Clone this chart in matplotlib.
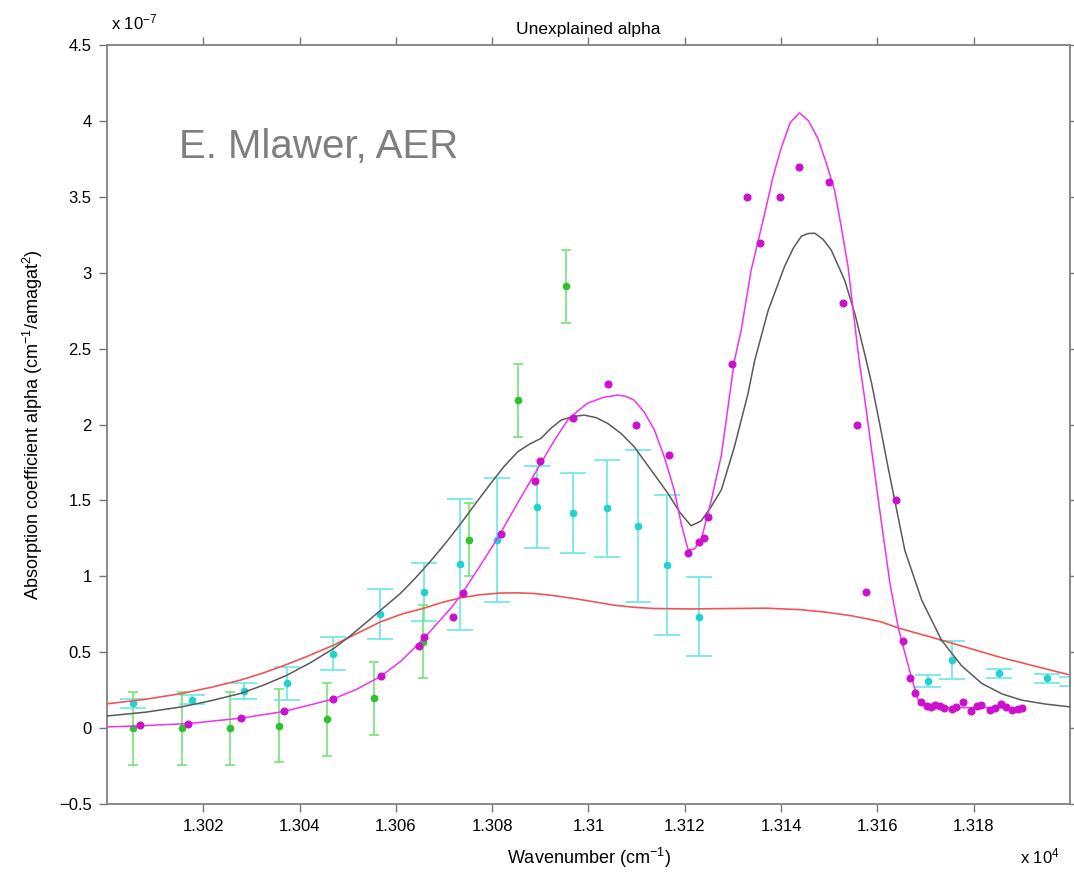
import matplotlib
matplotlib.use('Agg')
import matplotlib.pyplot as plt
from matplotlib.ticker import FixedLocator, FuncFormatter

plt.rcParams['font.family'] = ['Liberation Sans', 'DejaVu Sans']
plt.rcParams['mathtext.default'] = 'regular'

# wavenumber in cm^-1, alpha in units of 1e-7 cm^-1/amagat^2
green_x = [13005.5, 13015.5, 13025.6, 13035.7, 13045.7, 13055.4, 13065.6, 13075.2, 13085.3, 13095.3]
green_y = [0.00, 0.00, 0.00, 0.015, 0.057, 0.196, 0.57, 1.24, 2.16, 2.91]
green_err = [0.24, 0.24, 0.24, 0.24, 0.24, 0.24, 0.24, 0.24, 0.24, 0.24]

cyan_x = [13005.5, 13017.7, 13028.5, 13037.4, 13047.0, 13056.7, 13065.8, 13073.3, 13080.9,
          13089.4, 13096.7, 13103.8, 13110.2, 13116.4, 13123.0, 13170.6, 13175.4, 13185.2,
          13195.3, 13200.4]
cyan_y = [0.165, 0.186, 0.244, 0.294, 0.49, 0.749, 0.896, 1.078, 1.238,
          1.454, 1.418, 1.447, 1.333, 1.074, 0.733, 0.31, 0.448, 0.36,
          0.327, 0.305]
cyan_err = [0.03, 0.03, 0.05, 0.11, 0.108, 0.165, 0.19, 0.43, 0.41,
            0.27, 0.265, 0.32, 0.50, 0.46, 0.26, 0.04, 0.125, 0.03,
            0.03, 0.03]

mag_x = [13006.8, 13016.8, 13027.9, 13036.8, 13046.9, 13056.9, 13064.9, 13065.8, 13071.8,
         13073.9, 13081.8, 13088.8, 13090.0, 13096.8, 13104.0, 13109.9, 13116.8, 13120.7,
         13122.9, 13123.9, 13124.9, 13129.8, 13132.9, 13135.7, 13139.8, 13143.8, 13149.9,
         13152.9, 13155.8, 13157.7, 13163.8, 13165.4, 13166.7, 13167.9, 13169.0, 13170.2,
         13171.2, 13171.9, 13173.0, 13173.9, 13175.4, 13176.4, 13177.8, 13179.4, 13180.6,
         13181.6, 13183.4, 13184.4, 13185.7, 13186.8, 13187.9, 13189.1, 13190.0]
mag_y = [0.02, 0.03, 0.066, 0.11, 0.19, 0.342, 0.542, 0.597, 0.733,
         0.887, 1.278, 1.629, 1.759, 2.04, 2.266, 2.0, 1.798, 1.155,
         1.227, 1.25, 1.392, 2.40, 3.496, 3.197, 3.496, 3.696, 3.597,
         2.80, 2.0, 0.90, 1.50, 0.575, 0.327, 0.233, 0.173, 0.145,
         0.136, 0.152, 0.145, 0.13, 0.123, 0.14, 0.173, 0.114, 0.147,
         0.152, 0.119, 0.134, 0.158, 0.136, 0.119, 0.123, 0.13]

red_x = [13000.0, 13008.0, 13015.5, 13021.5, 13027.7, 13032.5, 13037.4, 13042.2, 13047.1,
         13052.0, 13056.8, 13061.3, 13065.8, 13069.6, 13073.4, 13077.6, 13081.8, 13085.2,
         13088.6, 13092.8, 13097.0, 13101.2, 13105.3, 13109.5, 13113.6, 13121.0, 13129.6,
         13137.0, 13144.2, 13149.5, 13154.6, 13157.7, 13160.8, 13164.3, 13168.8, 13173.3,
         13179.2, 13185.1, 13192.5, 13200.0]
red_y = [0.16, 0.19, 0.228, 0.268, 0.316, 0.364, 0.42, 0.481, 0.547,
         0.625, 0.70, 0.752, 0.79, 0.828, 0.858, 0.879, 0.89, 0.891,
         0.887, 0.873, 0.854, 0.832, 0.81, 0.796, 0.788, 0.785, 0.788,
         0.79, 0.78, 0.763, 0.74, 0.721, 0.70, 0.66, 0.62, 0.58,
         0.525, 0.47, 0.41, 0.35]

gray_x = [13000.0, 13008.0, 13015.5, 13021.5, 13027.7, 13032.5, 13037.4, 13042.2, 13047.1,
          13050.6, 13054.0, 13057.5, 13061.0, 13064.1, 13067.2, 13070.4, 13073.5, 13076.6,
          13079.7, 13082.5, 13085.3, 13087.7, 13090.1, 13092.2, 13094.3, 13096.7, 13099.1,
          13101.6, 13104.0, 13106.8, 13109.5, 13113.0, 13116.5, 13119.0, 13121.3, 13123.4,
          13125.5, 13127.6, 13130.3, 13133.1, 13134.5, 13137.3, 13140.7, 13142.5, 13144.2,
          13145.6, 13147.0, 13148.7, 13150.4, 13153.2, 13155.4, 13157.5, 13158.8, 13160.5,
          13162.2, 13165.7, 13169.2, 13173.3, 13177.5, 13181.7, 13185.9, 13190.0, 13195.0,
          13200.0]
gray_y = [0.08, 0.105, 0.14, 0.18, 0.228, 0.283, 0.349, 0.43, 0.525,
          0.61, 0.70, 0.795, 0.889, 0.99, 1.10, 1.222, 1.348, 1.482,
          1.612, 1.725, 1.82, 1.87, 1.908, 1.975, 2.029, 2.052, 2.062,
          2.045, 2.007, 1.94, 1.853, 1.70, 1.546, 1.42, 1.333, 1.365,
          1.46, 1.57, 1.853, 2.2, 2.42, 2.75, 3.04, 3.16, 3.24,
          3.258, 3.26, 3.22, 3.15, 2.95, 2.72, 2.446, 2.27, 2.0,
          1.72, 1.17, 0.843, 0.58, 0.41, 0.294, 0.225, 0.184, 0.158,
          0.14]

fit_x = [13000.0, 13006.9, 13016.9, 13027.9, 13036.8, 13046.8, 13051.8, 13056.8, 13061.0,
         13065.8, 13068.6, 13071.4, 13073.5, 13077.3, 13081.1, 13085.6, 13090.1, 13093.0,
         13095.7, 13097.8, 13099.8, 13103.0, 13106.1, 13107.8, 13109.5, 13111.6, 13113.7,
         13115.8, 13117.8, 13119.3, 13120.7, 13122.0, 13123.4, 13125.5, 13127.6, 13130.3,
         13131.7, 13133.8, 13136.6, 13138.3, 13140.0, 13141.9, 13143.8, 13145.7, 13147.7,
         13149.4, 13151.1, 13152.5, 13153.9, 13156.1, 13157.4, 13158.8, 13160.2, 13162.6,
         13164.3, 13165.0, 13167.1, 13168.5, 13170.2, 13175.0, 13180.0, 13185.0, 13190.0]
fit_y = [0.008, 0.015, 0.03, 0.066, 0.11, 0.19, 0.255, 0.34, 0.44,
         0.59, 0.69, 0.79, 0.876, 1.06, 1.25, 1.50, 1.744, 1.90,
         2.03, 2.09, 2.14, 2.178, 2.194, 2.185, 2.16, 2.08, 1.963,
         1.78, 1.568, 1.34, 1.173, 1.18, 1.24, 1.50, 1.80, 2.42,
         2.62, 3.02, 3.39, 3.63, 3.82, 3.99, 4.053, 4.0, 3.88,
         3.72, 3.544, 3.30, 3.04, 2.446, 2.16, 1.83, 1.50, 0.953,
         0.667, 0.58, 0.33, 0.184, 0.14, 0.135, 0.135, 0.135, 0.13]

xticks = [13020, 13040, 13060, 13080, 13100, 13120, 13140, 13160, 13180]
yticks = [-0.5, 0, 0.5, 1, 1.5, 2, 2.5, 3, 3.5, 4, 4.5]


def main():
    fig = plt.figure(figsize=(10.74, 8.77), dpi=100)
    ax = fig.add_axes([0.0996, 0.0832, 0.8967, 0.8655])

    ax.errorbar(cyan_x, cyan_y, yerr=cyan_err, fmt='o', color='#5ee6e6', ecolor='#6ae8e8',
                markerfacecolor='#22d2d2', markeredgecolor='#22d2d2', markersize=4.5,
                elinewidth=1.2, capsize=9.5, capthick=1.2, zorder=2)
    ax.errorbar(green_x, green_y, yerr=green_err, fmt='o', color='#70e070', ecolor='#74e474',
                markerfacecolor='#2fbf2f', markeredgecolor='#2fbf2f', markersize=4.5,
                elinewidth=1.2, capsize=3.8, capthick=1.2, zorder=2)

    ax.plot(red_x, red_y, color='#ef5555', lw=1.2, zorder=3)
    ax.plot(gray_x, gray_y, color='#5a5a5a', lw=1.1, zorder=3)
    ax.plot(fit_x, fit_y, color='#ee33ee', lw=1.1, zorder=3)
    ax.plot(mag_x, mag_y, 'o', color='#cc11cc', markersize=4.8, zorder=4)

    ax.set_xlim(13000, 13200)
    ax.set_ylim(-0.5, 4.5)
    ax.xaxis.set_major_locator(FixedLocator(xticks))
    ax.yaxis.set_major_locator(FixedLocator(yticks))
    ax.xaxis.set_major_formatter(FuncFormatter(lambda v, p: '%g' % (v / 1e4)))
    ax.yaxis.set_major_formatter(FuncFormatter(lambda v, p: ('%g' % v).replace('-', '\u2212')))
    ax.tick_params(direction='out', length=6, width=1, color='#777777', labelsize=12,
                   top=True, right=True, pad=5)
    for s in ax.spines.values():
        s.set_color('#808080')
        s.set_linewidth(1.3)

    ax.set_title('Unexplained alpha', fontsize=12.5, pad=8)
    ax.set_xlabel('Wavenumber (cm$^{-1}$)', fontsize=13, labelpad=8)
    ax.set_ylabel('Absorption coefficient alpha (cm$^{-1}$/amagat$^{2}$)', fontsize=13, labelpad=10)

    fig.text(0.103, 0.963, 'x 10$^{-7}$', fontsize=12, ha='left', va='bottom')
    fig.text(0.95, 0.012, 'x 10$^{4}$', fontsize=12, ha='left', va='bottom')
    ax.text(13015, 3.7, 'E. Mlawer, AER', fontsize=29, color='#7f7f7f', ha='left', va='bottom')

    fig.savefig('out.png', dpi=100)


if __name__ == '__main__':
    main()
